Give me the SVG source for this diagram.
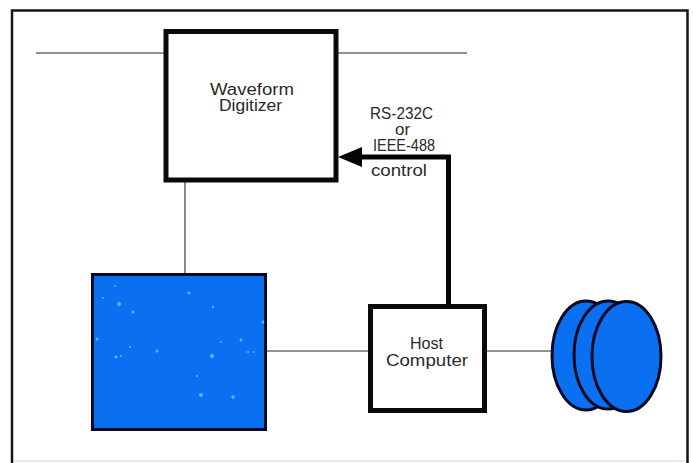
<svg xmlns="http://www.w3.org/2000/svg" width="693" height="463" viewBox="0 0 693 463">
<style>
.box{fill:#fff;stroke:#0a0a0c;stroke-width:5}
.blue{fill:#0a6ff0;stroke:#050a20;stroke-width:3}
.wire{fill:none;stroke:#6f6f6f;stroke-width:1.6}
.bus{fill:none;stroke:#050505;stroke-width:5}
text{font-family:"Liberation Sans",Arial,sans-serif;font-size:16px;fill:#2a2a2a;text-anchor:middle}
.spk{fill:#5db8ff}
.frame{fill:none;stroke:#151515;stroke-width:2.5}
</style>
<defs><marker id="arrow" markerUnits="userSpaceOnUse" markerWidth="24" markerHeight="20" refX="2" refY="10" orient="auto"><path d="M0 0V20L24 10Z" fill="#050505"/></marker></defs>
<rect width="693" height="463" fill="#fff"/>
<g id="frame"><path class="frame" d="M12 463V10.500H687.500V463"/><path d="M14 461H685" fill="none" stroke="#e6e4d8" stroke-width="1.500"/></g>
<g id="connectors">
<path class="wire" d="M36 53H166M336 53H467M185 180V274M267 351H370M485 351H553"/>
<path class="bus" d="M448.500 306V157H360" marker-end="url(#arrow)"/>
</g>
<g id="digitizer"><rect class="box" x="166" y="31.500" width="170" height="148.500"/>
<text x="252" y="95" textLength="84" lengthAdjust="spacingAndGlyphs">Waveform</text><text x="250.500" y="111" textLength="63" lengthAdjust="spacingAndGlyphs">Digitizer</text></g>
<g id="display"><rect class="blue" x="92.500" y="274.500" width="173" height="155"/>
<g class="spk"><circle cx="119" cy="304" r="2"/><circle cx="133" cy="312" r="1.500"/><circle cx="189" cy="293" r="1.500"/><circle cx="212" cy="356" r="2"/><circle cx="201" cy="395" r="2"/><circle cx="233" cy="397" r="1.700"/><circle cx="157" cy="351" r="1.500"/><circle cx="97" cy="339" r="1.500"/><circle cx="116" cy="357" r="1.500"/><circle cx="121" cy="356" r="1"/><circle cx="241" cy="340" r="1.500"/><circle cx="263" cy="322" r="1.500"/><circle cx="197" cy="376" r="1"/><circle cx="130" cy="347" r="1"/><circle cx="221" cy="342" r="1"/><circle cx="254" cy="352" r="1"/><circle cx="248" cy="352" r="1"/><circle cx="213" cy="307" r="1.200"/><circle cx="115" cy="286" r="1"/><circle cx="103" cy="298" r="1"/></g></g>
<g id="host"><rect class="box" x="370.500" y="306.500" width="114" height="104"/>
<text x="426.500" y="349" textLength="33" lengthAdjust="spacingAndGlyphs">Host</text><text x="427" y="366" textLength="82" lengthAdjust="spacingAndGlyphs">Computer</text></g>
<g id="disks">
<ellipse class="blue" cx="586" cy="355.500" rx="34" ry="54.500"/>
<ellipse class="blue" cx="608" cy="355" rx="34" ry="54"/>
<ellipse class="blue" cx="626.500" cy="356.500" rx="34.500" ry="55"/></g>
<g id="labels"><text x="401.500" y="119" textLength="63" lengthAdjust="spacingAndGlyphs">RS-232C</text><text x="402.500" y="135" textLength="15" lengthAdjust="spacingAndGlyphs">or</text><text x="404" y="151" textLength="62" lengthAdjust="spacingAndGlyphs">IEEE-488</text><text x="399" y="176" textLength="56" lengthAdjust="spacingAndGlyphs">control</text></g>
</svg>
